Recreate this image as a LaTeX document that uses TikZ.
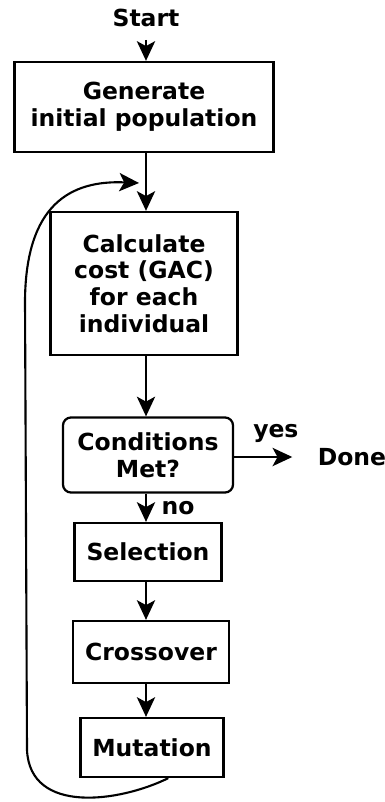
\documentclass[tikz,border=0pt]{standalone}
\usepackage{fontspec}
\setmainfont{DejaVu Sans}
\usetikzlibrary{arrows.meta}

\begin{document}
\begin{tikzpicture}[x=0.025cm, y=-0.025cm,
    >={Stealth[length=14pt, width=13pt, inset=3.5pt]},
    font=\fontsize{16.7}{19}\selectfont\bfseries,
    box/.style={draw, line width=1.6pt, align=center, inner sep=0pt},
    flow/.style={->, line width=1.5pt}]

\useasboundingbox (0,0) rectangle (385,802);

% Boxes
\node[inner sep=2pt] (start) at (146,18) {Start};
\node[box, minimum width=6.475cm, minimum height=2.25cm] (gen) at (144,107)
    {Generate\\initial population};
\node[box, minimum width=4.675cm, minimum height=3.575cm] (calc) at (144,283.5)
    {Calculate\\cost (GAC)\\for each\\individual};
\node[box, rounded corners=0.2cm, minimum width=4.25cm, minimum height=1.875cm]
    (cond) at (148,455) {Conditions\\Met?};
\node[inner sep=0pt] (done) at (352,457) {Done};
\node[box, minimum width=3.675cm, minimum height=1.45cm] (sel) at (148,552) {Selection};
\node[box, minimum width=3.9cm, minimum height=1.55cm] (cross) at (151,652) {Crossover};
\node[box, minimum width=3.575cm, minimum height=1.475cm] (mut) at (152,747.5) {Mutation};

% Arrows down
\draw[flow, shorten <=7pt] (start.south) -- (start.south |- gen.north);
\draw[flow] (start.south |- gen.south) -- (start.south |- calc.north);
\draw[flow] (start.south |- calc.south) -- (start.south |- cond.north);
\draw[flow] (start.south |- cond.south) -- node[right=7pt] {no} (start.south |- sel.north);
\draw[flow] (start.south |- sel.south) -- (start.south |- cross.north);
\draw[flow] (start.south |- cross.south) -- (start.south |- mut.north);

% Exit
\draw[flow, shorten >=18pt] (cond.east |- done.west) -- node[above=6pt] {yes} (done.west);

% Loop back
\coordinate (back) at (139,183);
\draw[flow] (mut.-62) .. controls (120,802) and (30,815) .. (27,750)
    -- (25,300) .. controls (26,205) and (70,180) .. (back);

\end{tikzpicture}
\end{document}
